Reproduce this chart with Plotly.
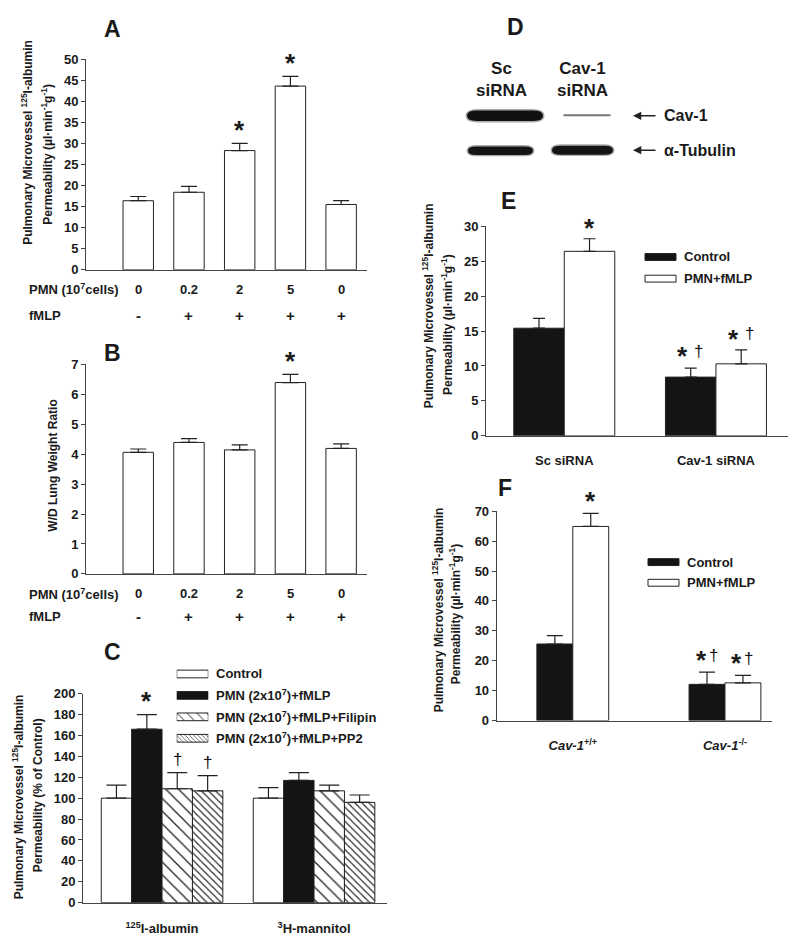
import plotly.graph_objects as go

W, H = 800, 950


def px(x):
    return x / W


def py(y):
    return 1 - y / H


# ---------------- data ----------------
a_pmn = ["0", "0.2", "2", "5", "0"]
a_fmlp = ["-", "+", "+", "+", "+"]
a_perm = [16.4, 18.4, 28.3, 43.6, 15.5]
a_perm_err = [1.0, 1.4, 1.7, 2.3, 0.9]
a_sig = ["", "", "*", "*", ""]

b_wd = [4.06, 4.39, 4.14, 6.39, 4.19]
b_wd_err = [0.11, 0.13, 0.17, 0.27, 0.15]
b_sig = ["", "", "", "*", ""]

c_groups = ["<sup>125</sup>I-albumin", "<sup>3</sup>H-mannitol"]
c_series = ["Control", "PMN (2x10<sup>7</sup>)+fMLP",
            "PMN (2x10<sup>7</sup>)+fMLP+Filipin", "PMN (2x10<sup>7</sup>)+fMLP+PP2"]
c_control = [100, 100]
c_control_err = [12.5, 10.0]
c_pmn = [166, 117]
c_pmn_err = [14.0, 7.5]
c_filipin = [109, 107]
c_filipin_err = [15.5, 5.5]
c_pp2 = [107, 96]
c_pp2_err = [14.5, 7.0]
c_sig_control = ["", ""]
c_sig_pmn = ["*", ""]
c_sig_filipin = ["†", ""]
c_sig_pp2 = ["†", ""]

d_lanes = ["Sc<br>siRNA", "Cav-1<br>siRNA"]
d_proteins = ["Cav-1", "α-Tubulin"]

e_groups = ["Sc siRNA", "Cav-1 siRNA"]
e_series = ["Control", "PMN+fMLP"]
e_control = [15.4, 8.4]
e_control_err = [1.4, 1.3]
e_pmn = [26.4, 10.3]
e_pmn_err = [1.8, 2.0]
e_sig_control = ["", "*†"]
e_sig_pmn = ["*", "*†"]

f_groups = ["<i>Cav-1</i><sup>+/+</sup>", "<i>Cav-1</i><sup>-/-</sup>"]
f_series = ["Control", "PMN+fMLP"]
f_control = [25.6, 12.1]
f_control_err = [2.8, 4.1]
f_pmn = [64.9, 12.6]
f_pmn_err = [4.4, 2.5]
f_sig_control = ["", "*†"]
f_sig_pmn = ["*", "*†"]

# ---------------- styles ----------------
FONT = "Liberation Sans, Arial, sans-serif"
TXT = "#1a1a1a"
AX = "#444444"
BLACK = "#141414"
OUT = dict(color="#222222", width=1)

fig = go.Figure()


def err(vals, w):
    return dict(type="data", array=vals, symmetric=False, arrayminus=[0] * len(vals),
                color="#222222", thickness=1.2, width=w)


def add_bars(xa, ya, x, y, e, fill, w, off, capw, pattern=None, name=""):
    marker = dict(color=fill, line=OUT)
    if pattern:
        marker["pattern"] = pattern
    fig.add_trace(go.Bar(x=x, y=y, width=w, offset=off, marker=marker, name=name,
                         error_y=err(e, capw), xaxis=xa, yaxis=ya, showlegend=False))


annotations = []


def ann(text, x, y, xref="paper", yref="paper", size=12, bold=True, xanchor="center",
        yanchor="middle", angle=0, yshift=0, xshift=0, color=TXT):
    annotations.append(dict(text=text, x=x, y=y, xref=xref, yref=yref, showarrow=False,
                            xanchor=xanchor, yanchor=yanchor, textangle=angle, yshift=yshift,
                            xshift=xshift,
                            font=dict(size=size, family=FONT, color=color,
                                      weight="bold" if bold else "normal")))


def sig_marks(xref, yref, xs, tops, marks, ast_up=18, dag_up=14, gap=7):
    """asterisk / dagger centred `ast_up` / `dag_up` pixels above the error-bar top"""
    for xv, t, m in zip(xs, tops, marks):
        if not m:
            continue
        both = "*" in m and "†" in m
        if "*" in m:
            ann("*", xv, t, xref=xref, yref=yref, size=26, yanchor="middle",
                yshift=ast_up - 5, xshift=-gap if both else 0)
        if "†" in m:
            ann("†", xv, t, xref=xref, yref=yref, size=17, bold=False, yanchor="middle",
                yshift=(ast_up if both else dag_up), xshift=gap if both else 0, color="#111111")


# ---------------- Panel A ----------------
xa_idx = list(range(len(a_perm)))
add_bars("x", "y", xa_idx, a_perm, a_perm_err, "white", 0.6, -0.3, 8)
sig_marks("x", "y", xa_idx, [v + e for v, e in zip(a_perm, a_perm_err)], a_sig)
ann("PMN (10<sup>7</sup>cells)", px(27), py(287), xanchor="left", size=13)
ann("fMLP", px(27), py(313), xanchor="left", size=13)
for i, (p, f) in enumerate(zip(a_pmn, a_fmlp)):
    ann(p, i, py(287), xref="x", size=13)
    ann(f, i, py(313), xref="x", size=15)

# ---------------- Panel B ----------------
add_bars("x2", "y2", xa_idx, b_wd, b_wd_err, "white", 0.6, -0.3, 8)
sig_marks("x2", "y2", xa_idx, [v + e for v, e in zip(b_wd, b_wd_err)], b_sig)
ann("PMN (10<sup>7</sup>cells)", px(27), py(596), xanchor="left", size=13)
ann("fMLP", px(27), py(619), xanchor="left", size=13)
for i, (p, f) in enumerate(zip(a_pmn, a_fmlp)):
    ann(p, i, py(596), xref="x2", size=13)
    ann(f, i, py(619), xref="x2", size=15)

# ---------------- Panel C ----------------
xc = list(range(len(c_groups)))
c_fill = ["white", BLACK, "white", "white"]
c_pat = [None, None,
         dict(shape="\\", size=9, solidity=0.14, fgcolor="#222222", bgcolor="white", fillmode="replace"),
         dict(shape="\\", size=5, solidity=0.22, fgcolor="#222222", bgcolor="white", fillmode="replace")]
c_vals = [c_control, c_pmn, c_filipin, c_pp2]
c_errs = [c_control_err, c_pmn_err, c_filipin_err, c_pp2_err]
c_sigs = [c_sig_control, c_sig_pmn, c_sig_filipin, c_sig_pp2]
cw = 0.2
for j in range(4):
    off = -0.4 + j * cw
    add_bars("x3", "y3", xc, c_vals[j], c_errs[j], c_fill[j], cw, off, 10, c_pat[j], c_series[j])
    sig_marks("x3", "y3", [g + off + cw / 2 for g in xc],
              [v + e for v, e in zip(c_vals[j], c_errs[j])], c_sigs[j], ast_up=19, dag_up=13)

# legend swatches for C (small helper axis, one swatch per series)
for j in range(4):
    mk = dict(color=c_fill[j], line=OUT)
    if c_pat[j]:
        mk["pattern"] = dict(c_pat[j], size=c_pat[j]["size"] - 2)
    fig.add_trace(go.Bar(y=[j], x=[1], orientation="h", width=0.36, marker=mk,
                         xaxis="x6", yaxis="y6", showlegend=False, hoverinfo="skip"))
for j, s in enumerate(c_series):
    ann(s, px(214), py(677.7 + j * 21.8), xanchor="left", size=13)

# ---------------- Panel D (western blot) ----------------
shapes = []


def band(x0, x1, yc, h, color, soft=True):
    def path(a0, a1, c, hh):
        r = min(hh * 0.9, (a1 - a0) / 4)
        t, b = c - hh / 2, c + hh / 2
        return (f"M {px(a0 + r)},{py(t)} L {px(a1 - r)},{py(t)} "
                f"Q {px(a1)},{py(t)} {px(a1)},{py(c)} Q {px(a1)},{py(b)} {px(a1 - r)},{py(b)} "
                f"L {px(a0 + r)},{py(b)} Q {px(a0)},{py(b)} {px(a0)},{py(c)} "
                f"Q {px(a0)},{py(t)} {px(a0 + r)},{py(t)} Z")
    if soft:
        shapes.append(dict(type="path", path=path(x0 - 1.5, x1 + 1.5, yc, h + 3), xref="paper",
                           yref="paper", fillcolor=color, opacity=0.35, line=dict(width=0)))
    shapes.append(dict(type="path", path=path(x0, x1, yc, h), xref="paper", yref="paper",
                       fillcolor=color, line=dict(width=0)))


band(467, 543, 110.5, 10.5, "#111111")
band(563, 611, 110, 2.2, "#777777", soft=False)
band(468, 533, 146, 8.5, "#151515")
band(552, 613, 145.5, 9, "#151515")
ann(d_lanes[0], px(501), py(74), size=17)
ann(d_lanes[1], px(582), py(74), size=17)
for yy, lab in zip([110.5, 145.5], d_proteins):
    annotations.append(dict(x=px(633), y=py(yy), ax=24, ay=0, xref="paper", yref="paper",
                            text="", showarrow=True, arrowhead=2, arrowsize=1.1,
                            arrowwidth=1.5, arrowcolor="#222222"))
    ann(lab, px(662), py(yy), xanchor="left", size=16)

# ---------------- Panel E ----------------
xe = list(range(len(e_groups)))
ew = 0.333
add_bars("x4", "y4", xe, e_control, e_control_err, BLACK, ew, -ew, 6, None, e_series[0])
add_bars("x4", "y4", xe, e_pmn, e_pmn_err, "white", ew, 0, 6, None, e_series[1])
sig_marks("x4", "y4", [g - ew / 2 for g in xe],
          [v + e for v, e in zip(e_control, e_control_err)], e_sig_control, ast_up=17, gap=8)
sig_marks("x4", "y4", [g + ew / 2 for g in xe],
          [v + e for v, e in zip(e_pmn, e_pmn_err)], e_sig_pmn, ast_up=16, gap=8)
for j, (fill, yy) in enumerate(zip([BLACK, "white"], [254, 276])):
    shapes.append(dict(type="rect", xref="paper", yref="paper", x0=px(645), x1=px(676),
                       y0=py(yy - 3.5), y1=py(yy + 3.5), fillcolor=fill,
                       line=dict(color="#222222", width=1)))
    ann(e_series[j], px(682), py(yy), xanchor="left", size=13)

# ---------------- Panel F ----------------
xf = list(range(len(f_groups)))
fw = 0.236
add_bars("x5", "y5", xf, f_control, f_control_err, BLACK, fw, -fw, 8, None, f_series[0])
add_bars("x5", "y5", xf, f_pmn, f_pmn_err, "white", fw, 0, 8, None, f_series[1])
sig_marks("x5", "y5", [g - fw / 2 for g in xf],
          [v + e for v, e in zip(f_control, f_control_err)], f_sig_control, ast_up=17, gap=6)
sig_marks("x5", "y5", [g + fw / 2 for g in xf],
          [v + e for v, e in zip(f_pmn, f_pmn_err)], f_sig_pmn, ast_up=17, gap=6)
for j, (fill, yy) in enumerate(zip([BLACK, "white"], [564, 585])):
    shapes.append(dict(type="rect", xref="paper", yref="paper", x0=px(648), x1=px(679),
                       y0=py(yy - 3.5), y1=py(yy + 3.5), fillcolor=fill,
                       line=dict(color="#222222", width=1)))
    ann(f_series[j], px(685), py(yy), xanchor="left", size=13)

# ---------------- titles / labels ----------------
for lab, x, y in [("A", 113, 22), ("B", 113, 352), ("C", 113, 655),
                  ("D", 515, 20), ("E", 508, 197), ("F", 505, 489)]:
    ann(lab, px(x), py(y), size=23)

perm1 = "Pulmonary Microvessel <sup>125</sup>I-albumin"
perm2 = "Permeability (µl·min<sup>-1</sup>g<sup>-1</sup>)"
TS = 12
ann(perm1, px(27), py(138), angle=-90, size=TS)
ann(perm2, px(47), py(150), angle=-90, size=TS)
ann("W/D Lung Weight Ratio", px(53), py(466), angle=-90, size=TS)
ann(perm1, px(18), py(803), angle=-90, size=TS)
ann("Permeability (% of Control)", px(38), py(801), angle=-90, size=TS)
ann(perm1, px(428), py(304), angle=-90, size=TS)
ann(perm2, px(447), py(323), angle=-90, size=TS)
ann(perm1, px(438), py(613), angle=-90, size=TS)
ann(perm2, px(455), py(617), angle=-90, size=TS)

# ---------------- axes ----------------
yax = dict(showline=True, linecolor=AX, linewidth=1, ticks="outside", ticklen=4, tickcolor=AX,
           showgrid=False, zeroline=False,
           tickfont=dict(size=13, family=FONT, color=TXT, weight="bold"))
xax = dict(showline=True, linecolor=AX, linewidth=1, showgrid=False, zeroline=False)


def xcat(dom, rng, anchor, labels=None, tl=0):
    d = dict(xax, domain=dom, range=rng, anchor=anchor)
    if labels:
        d.update(tickmode="array", tickvals=list(range(len(labels))), ticktext=labels,
                 ticks="outside", ticklen=tl, tickcolor="rgba(0,0,0,0)",
                 tickfont=dict(size=13, family=FONT, color=TXT, weight="bold"))
    else:
        d.update(showticklabels=False, ticks="")
    return d


fig.update_layout(
    width=W, height=H, margin=dict(l=0, r=0, t=0, b=0),
    paper_bgcolor="white", plot_bgcolor="rgba(0,0,0,0)",
    barmode="overlay", showlegend=False, hovermode=False,
    font=dict(family=FONT, color=TXT),
    xaxis=xcat([px(86), px(367)], [-1.03, 4.51], "y"),
    yaxis=dict(yax, domain=[py(267), py(53)], range=[0, 50], dtick=5, anchor="x"),
    xaxis2=xcat([px(86), px(367)], [-1.03, 4.51], "y2"),
    yaxis2=dict(yax, domain=[py(576), py(363)], range=[0, 7], dtick=1, anchor="x2"),
    xaxis3=xcat([px(83), px(387)], [-0.52, 1.48], "y3", c_groups, 14),
    yaxis3=dict(yax, domain=[py(910), py(697.7)], range=[0, 200], dtick=20, anchor="x3"),
    xaxis4=xcat([px(486), px(788)], [-0.516, 1.475], "y4", e_groups, 13),
    yaxis4=dict(yax, domain=[py(435.7), py(222.7)], range=[0, 30], dtick=5, anchor="x4"),
    xaxis5=xcat([px(496.7), px(771.7)], [-0.5, 1.307], "y5", f_groups, 13),
    yaxis5=dict(yax, domain=[py(725), py(512.3)], range=[0, 70], dtick=10, anchor="x5"),
    xaxis6=dict(domain=[px(176.7), px(208.3)], range=[0, 1], visible=False, anchor="y6"),
    yaxis6=dict(domain=[py(753.9), py(666.8)], range=[3.5, -0.5], visible=False, anchor="x6"),
    annotations=annotations,
    shapes=shapes,
)

fig.write_html("out.html", config={"displayModeBar": False},
               post_script="document.body.style.margin='0px';")
